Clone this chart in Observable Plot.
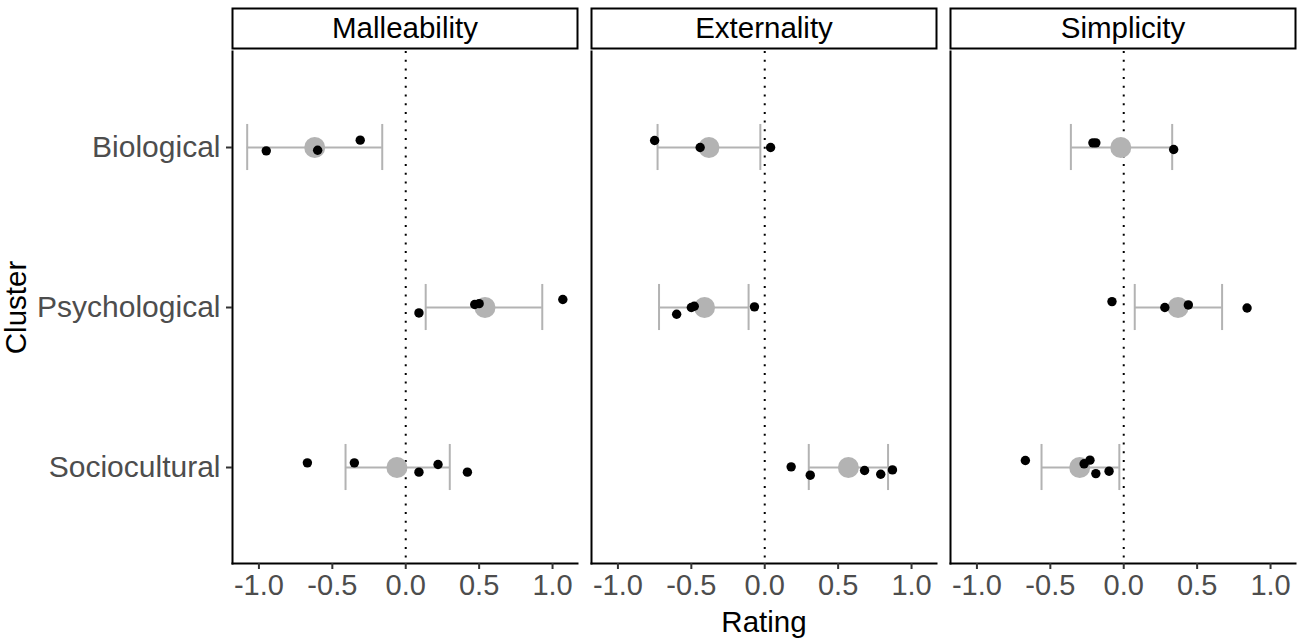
<!DOCTYPE html>
<html>
<head>
<meta charset="utf-8">
<script src="https://cdn.jsdelivr.net/npm/d3@7"></script>
<script src="https://cdn.jsdelivr.net/npm/@observablehq/plot@0.6"></script>
<style>
  html, body { margin: 0; padding: 0; background: #fff; }
  #chart { width: 1300px; height: 641px; }
</style>
</head>
<body>
<div id="chart"></div>
<script>
// ---- data ----
const dimensions = ["Malleability", "Externality", "Simplicity"];
const clusters = ["Biological", "Psychological", "Sociocultural"];
const xTicks = [-1, -0.5, 0, 0.5, 1];

// summary (rows: dimension, cols: cluster)
const meanRating = [[-0.62, 0.54, -0.06], [-0.38, -0.41, 0.57], [-0.02, 0.37, -0.30]];
const ciLow      = [[-1.08, 0.136, -0.41], [-0.73, -0.72, 0.30], [-0.36, 0.075, -0.56]];
const ciHigh     = [[-0.16, 0.93, 0.30], [-0.03, -0.11, 0.84], [0.33, 0.67, -0.03]];

// individual items
const itemDim = [
  "Malleability","Malleability","Malleability",
  "Malleability","Malleability","Malleability","Malleability",
  "Malleability","Malleability","Malleability","Malleability","Malleability",
  "Externality","Externality","Externality",
  "Externality","Externality","Externality","Externality",
  "Externality","Externality","Externality","Externality","Externality",
  "Simplicity","Simplicity","Simplicity",
  "Simplicity","Simplicity","Simplicity","Simplicity",
  "Simplicity","Simplicity","Simplicity","Simplicity","Simplicity"
];
const itemCluster = [
  "Biological","Biological","Biological",
  "Psychological","Psychological","Psychological","Psychological",
  "Sociocultural","Sociocultural","Sociocultural","Sociocultural","Sociocultural",
  "Biological","Biological","Biological",
  "Psychological","Psychological","Psychological","Psychological",
  "Sociocultural","Sociocultural","Sociocultural","Sociocultural","Sociocultural",
  "Biological","Biological","Biological",
  "Psychological","Psychological","Psychological","Psychological",
  "Sociocultural","Sociocultural","Sociocultural","Sociocultural","Sociocultural"
];
const itemRating = [
  -0.95, -0.60, -0.31,
  0.09, 0.47, 0.50, 1.07,
  -0.67, -0.35, 0.09, 0.22, 0.42,
  -0.75, -0.44, 0.04,
  -0.60, -0.50, -0.48, -0.07,
  0.18, 0.31, 0.68, 0.79, 0.87,
  -0.21, -0.19, 0.34,
  -0.08, 0.28, 0.44, 0.84,
  -0.67, -0.27, -0.23, -0.19, -0.10
];
// vertical jitter (in cluster units)
const itemJitter = [
  0.021, 0.017, -0.046,
  0.034, -0.019, -0.024, -0.05,
  -0.029, -0.029, 0.029, -0.019, 0.029,
  -0.044, 0, 0,
  0.042, 0, -0.008, -0.004,
  -0.004, 0.048, 0.019, 0.042, 0.015,
  -0.029, -0.029, 0.0125,
  -0.037, 0, -0.016, 0.003,
  -0.044, -0.023, -0.046, 0.038, 0.023
];

// ---- build tables ----
const summary = [];
dimensions.forEach((dim, i) => clusters.forEach((cl, j) => summary.push({
  dim, cluster: cl, yi: j + 1, mean: meanRating[i][j], lo: ciLow[i][j], hi: ciHigh[i][j]
})));
const items = itemRating.map((v, k) => ({
  dim: itemDim[k], cluster: itemCluster[k], rating: v,
  yi: clusters.indexOf(itemCluster[k]) + 1 + itemJitter[k]
}));

const capH = 0.144;
const grey = "#b3b3b3";
const font = "'Liberation Sans', Arial, sans-serif";

const plot = Plot.plot({
  width: 1300,
  height: 641,
  marginLeft: 232,
  marginRight: 5,
  marginTop: 51,
  marginBottom: 78,
  style: { fontFamily: font, background: "#fff" },
  fx: { domain: dimensions, paddingInner: 0.039, paddingOuter: 0, axis: null },
  x: { domain: [-1.18, 1.17] },
  y: { domain: [0.4, 3.6], reverse: true },
  marks: [
    // strip boxes
    Plot.frame({ insetTop: -43, insetBottom: 515, fill: "white", stroke: "black", strokeWidth: 2 }),
    Plot.text(dimensions, { fx: d => d, text: d => d, frameAnchor: "top", lineAnchor: "middle", dy: -23, fontSize: 29.5, fill: "black" }),
    // panel axis lines
    Plot.frame({ anchor: "left", stroke: "black", strokeWidth: 2 }),
    Plot.frame({ anchor: "bottom", stroke: "black", strokeWidth: 2 }),
    // zero reference
    Plot.ruleX([0], { stroke: "black", strokeWidth: 2, strokeDasharray: "2,6.7" }),
    // error bars
    Plot.ruleY(summary, { fx: "dim", y: "yi", x1: "lo", x2: "hi", stroke: grey, strokeWidth: 2 }),
    Plot.ruleX(summary, { fx: "dim", x: "lo", y1: d => d.yi - capH, y2: d => d.yi + capH, stroke: grey, strokeWidth: 2 }),
    Plot.ruleX(summary, { fx: "dim", x: "hi", y1: d => d.yi - capH, y2: d => d.yi + capH, stroke: grey, strokeWidth: 2 }),
    // means
    Plot.dot(summary, { fx: "dim", x: "mean", y: "yi", r: 10.5, fill: grey, stroke: "none" }),
    // items
    Plot.dot(items, { fx: "dim", x: "rating", y: "yi", r: 4.7, fill: "black", stroke: "none" }),
    // axes
    Plot.axisX({ ticks: xTicks, tickFormat: d => d.toFixed(1), tickSize: 6, tickPadding: 5,
      fontSize: 29, color: "#4d4d4d", stroke: "#333", strokeWidth: 2, label: null }),
    Plot.axisY({ ticks: [1, 2, 3], tickFormat: i => clusters[i - 1], tickSize: 6, tickPadding: 6,
      fontSize: 30, color: "#4d4d4d", stroke: "#333", strokeWidth: 2, label: null }),
    // axis titles
    Plot.text(["Rating"], { fx: ["Externality"], text: d => d, frameAnchor: "bottom", lineAnchor: "middle", dy: 59, fontSize: 29.5, fill: "black" }),
    Plot.text(["Cluster"], { fx: ["Malleability"], text: d => d, frameAnchor: "left", textAnchor: "middle", lineAnchor: "middle", dx: -216, rotate: -90, fontSize: 29.5, fill: "black" })
  ]
});
document.getElementById("chart").appendChild(plot);
</script>
</body>
</html>
